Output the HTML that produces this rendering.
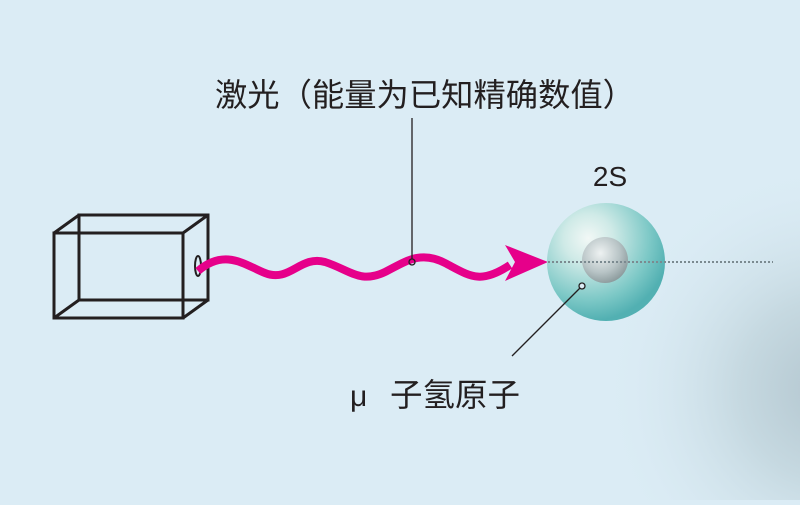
<!DOCTYPE html>
<html><head><meta charset="utf-8"><style>
html,body{margin:0;padding:0}
body{width:800px;height:500px;overflow:hidden;background:#dbecf5;font-family:"Liberation Sans","Noto Sans CJK SC",sans-serif}
</style></head><body>
<svg width="800" height="500" viewBox="0 0 800 500" xmlns="http://www.w3.org/2000/svg">
<defs>
<radialGradient id="sh" cx="0.35" cy="0.3" r="0.7">
<stop offset="0" stop-color="#f2f8f6"/><stop offset="0.3" stop-color="#cfeae7"/><stop offset="0.75" stop-color="#7cc8c6"/><stop offset="1" stop-color="#52b0b2"/></radialGradient>
<radialGradient id="nu" cx="0.4" cy="0.35" r="0.7">
<stop offset="0" stop-color="#eef2f2"/><stop offset="0.6" stop-color="#b8c4c6"/><stop offset="1" stop-color="#889799"/></radialGradient>
<radialGradient id="bg" cx="830" cy="390" r="230" gradientUnits="userSpaceOnUse">
<stop offset="0" stop-color="#b3c6cf"/><stop offset="0.4" stop-color="#c6d9e1"/><stop offset="1" stop-color="#dbecf5" stop-opacity="0"/></radialGradient>
</defs>
<rect x="0" y="0" width="800" height="500" fill="url(#bg)"/>
<g fill="none" stroke="#231f20" stroke-width="3">
<rect x="79" y="215" width="129" height="85"/>
<rect x="54" y="233" width="129" height="85"/>
<line x1="54" y1="233" x2="79" y2="215"/><line x1="183" y1="233" x2="208" y2="215"/>
<line x1="54" y1="318" x2="79" y2="300"/><line x1="183" y1="318" x2="208" y2="300"/>
</g>
<ellipse cx="198" cy="266" rx="3" ry="10" fill="none" stroke="#231f20" stroke-width="2"/>
<path d="M198 271 C225 248 245 265 265 273 C290 283 300 255 325 262 C350 270 360 284 385 272 C405 262 420 250 445 263 C470 276 480 285 510 265" fill="none" stroke="#e6008a" stroke-width="8"/>
<path d="M548 262 L505 245 L515 262 L505 281 Z" fill="#e6008a"/>
<circle cx="606" cy="262" r="59" fill="url(#sh)"/>
<circle cx="605" cy="260" r="23" fill="url(#nu)"/>
<line x1="548" y1="262" x2="773" y2="262" stroke="#7b8a90" stroke-width="2" stroke-dasharray="2 2"/>
<line x1="412" y1="118" x2="412" y2="259" stroke="#231f20" stroke-width="1.3"/>
<circle cx="412" cy="262" r="3" fill="none" stroke="#231f20" stroke-width="1.3"/>
<line x1="512" y1="356" x2="580" y2="288" stroke="#231f20" stroke-width="1.3"/>
<circle cx="582" cy="286" r="3" fill="#dbecf5" stroke="#231f20" stroke-width="1.3"/>
<text x="425" y="106" font-size="32" text-anchor="middle" fill="#231f20" textLength="420" lengthAdjust="spacingAndGlyphs">激光（能量为已知精确数值）</text>
<text x="610" y="186" font-size="28" text-anchor="middle" fill="#231f20">2S</text>
<text x="350" y="406" font-size="30" fill="#231f20">μ</text>
<text x="390" y="406" font-size="32" fill="#231f20" textLength="130" lengthAdjust="spacingAndGlyphs">子氢原子</text>
</svg>
</body></html>
